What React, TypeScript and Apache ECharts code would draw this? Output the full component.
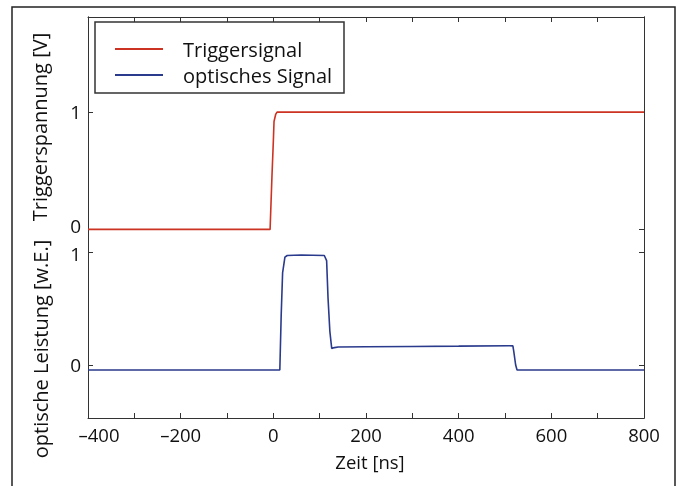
import React, { useEffect, useRef } from "react";
import * as echarts from "echarts";

// Triggersignal (Triggerspannung [V])
const triggerTime = [-400, -300, -200, -100, -7, -3, 0, 1.5, 5, 8, 20, 100, 200, 300, 400, 500, 600, 700, 800];
const triggerVolt = [0, 0, 0, 0, 0, 0.45, 0.75, 0.92, 0.98, 1.0, 1.0, 1.0, 1.0, 1.0, 1.0, 1.0, 1.0, 1.0, 1.0];

// optisches Signal (optische Leistung [w.E.])
const opticTime = [-400, -200, 0, 14, 17, 20, 25, 30, 60, 110, 115, 118, 122, 126, 132, 140, 200, 300, 400, 510, 517, 519, 523, 526, 600, 700, 800];
const opticPower = [-0.045, -0.045, -0.045, -0.045, 0.45, 0.82, 0.96, 0.975, 0.98, 0.975, 0.93, 0.6, 0.3, 0.148, 0.155, 0.16, 0.162, 0.165, 0.168, 0.172, 0.17, 0.12, 0.0, -0.045, -0.045, -0.045, -0.045];

const seriesNames = ["Triggersignal", "optisches Signal"];
const yTickValues = [0, 1];
const xLabelValues = [-400, -200, 0, 200, 400, 600, 800];

const FONT = "Open Sans";
const AXIS_COLOR = "#333";
const TEXT_COLOR = "#111";
const FS = 20;
const FS_Y = 19;
const FS_X = 18.5;

export default function App() {
  const ref = useRef<HTMLDivElement>(null);
  useEffect(() => {
    document.body.style.margin = "0";
    const chart = echarts.init(ref.current!, null, { renderer: "svg" });
    const yBase = (min: number, max: number, pos: "left" | "right", labels: boolean, shiftVal: number, pad: number[]) => ({
      type: "value",
      position: pos,
      min,
      max,
      splitLine: { show: false },
      axisLine: { show: true, onZero: false, lineStyle: { color: AXIS_COLOR, width: 1 } },
      axisTick: { show: true, inside: true, length: 5, customValues: yTickValues, lineStyle: { color: AXIS_COLOR } },
      axisLabel: {
        show: labels,
        customValues: yTickValues,
        fontSize: FS_Y,
        lineHeight: 17,
        fontFamily: FONT,
        color: TEXT_COLOR,
        margin: 7,
        formatter: (v: number) => (v === shiftVal ? "{s|" + v + "}" : String(v)),
        rich: {
          s: { fontSize: FS_Y, lineHeight: 17, fontFamily: FONT, color: TEXT_COLOR, padding: pad },
        },
      },
    });
    chart.setOption({
      animation: false,
      textStyle: { fontFamily: FONT },
      grid: { left: 88, right: 36, top: 17, bottom: 68, containLabel: false },
      legend: {
        data: seriesNames,
        orient: "vertical",
        left: 115,
        top: 37,
        padding: 0,
        itemWidth: 48,
        itemHeight: 2,
        itemGap: 2,
        icon: "rect",
        textStyle: { fontSize: FS, lineHeight: 24, fontFamily: FONT, color: TEXT_COLOR, padding: [0, 0, 0, 15] },
      },
      xAxis: [
        {
          type: "value",
          position: "bottom",
          min: -400,
          max: 800,
          interval: 100,
          splitLine: { show: false },
          axisLine: { show: true, onZero: false, lineStyle: { color: AXIS_COLOR } },
          axisTick: { show: true, inside: true, length: 5, lineStyle: { color: AXIS_COLOR } },
          axisLabel: {
            customValues: xLabelValues,
            fontSize: FS_X,
            lineHeight: 17,
            fontFamily: FONT,
            color: TEXT_COLOR,
            margin: 8,
            formatter: (v: number) => {
              const s = v < 0 ? "\u2013" + Math.abs(v) : String(v);
              return v === -400 ? "{m|" + s + "}" : s;
            },
            rich: {
              m: { fontSize: FS_X, lineHeight: 17, fontFamily: FONT, color: TEXT_COLOR, padding: [0, 0, 0, 22] },
            },
          },
        },
        {
          type: "value",
          position: "top",
          min: -400,
          max: 800,
          interval: 100,
          splitLine: { show: false },
          axisLine: { show: true, onZero: false, lineStyle: { color: AXIS_COLOR } },
          axisTick: { show: true, inside: true, length: 5, lineStyle: { color: AXIS_COLOR } },
          axisLabel: { show: false },
        },
      ],
      yAxis: [
        yBase(-1.608, 1.811, "left", true, 0, [0, 0, 6, 0]),
        yBase(-0.472, 3.099, "left", true, 1, [2, 0, 0, 0]),
        yBase(-1.608, 1.811, "right", false, 99, [0, 0, 0, 0]),
        yBase(-0.472, 3.099, "right", false, 99, [0, 0, 0, 0]),
      ],
      series: [
        {
          name: seriesNames[0],
          type: "line",
          xAxisIndex: 0,
          yAxisIndex: 0,
          data: triggerTime.map((t, i) => [t, triggerVolt[i]]),
          showSymbol: false,
          smooth: false,
          lineStyle: { color: "#cc3322", width: 1.6 },
          itemStyle: { color: "#cc3322" },
        },
        {
          name: seriesNames[1],
          type: "line",
          xAxisIndex: 0,
          yAxisIndex: 1,
          data: opticTime.map((t, i) => [t, opticPower[i]]),
          showSymbol: false,
          smooth: false,
          lineStyle: { color: "#2a3a8c", width: 1.6 },
          itemStyle: { color: "#2a3a8c" },
        },
      ],
      graphic: [
        {
          type: "rect",
          shape: { x: 12, y: 7, width: 663, height: 490 },
          style: { fill: "none", stroke: "#222", lineWidth: 1.5 },
          silent: true,
        },
        {
          type: "rect",
          shape: { x: 95, y: 22, width: 249, height: 71 },
          style: { fill: "none", stroke: AXIS_COLOR, lineWidth: 1.5 },
          silent: true,
        },
        {
          type: "text",
          x: 39,
          y: 127,
          rotation: Math.PI / 2,
          style: { text: "Triggerspannung [V]", fontSize: FS, fontFamily: FONT, fill: TEXT_COLOR, align: "center", verticalAlign: "middle" },
        },
        {
          type: "text",
          x: 40,
          y: 349,
          rotation: Math.PI / 2,
          style: { text: "optische Leistung [w.E.]", fontSize: FS, fontFamily: FONT, fill: TEXT_COLOR, align: "center", verticalAlign: "middle" },
        },
        {
          type: "text",
          x: 370,
          y: 461,
          style: { text: "Zeit [ns]", fontSize: FS_X, lineHeight: 17, fontFamily: FONT, fill: TEXT_COLOR, align: "center", verticalAlign: "middle" },
        },
      ],
    });
    return () => chart.dispose();
  }, []);
  return <div ref={ref} style={{ position: "fixed", left: 0, top: 0, width: 680, height: 486 }} />;
}
